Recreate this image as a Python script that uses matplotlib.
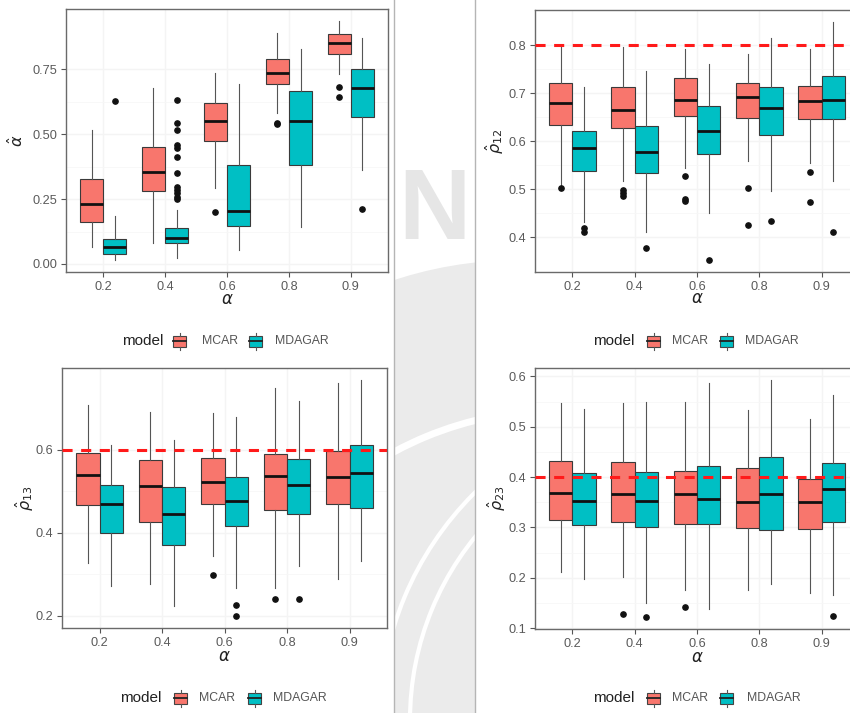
import numpy as np
import matplotlib.pyplot as plt
from matplotlib.patches import Rectangle, Ellipse, Arc

plt.rcParams["font.family"] = ["Liberation Sans", "DejaVu Sans"]
plt.rcParams["mathtext.fontset"] = "dejavusans"

W, H = 850, 713

alpha_levels = ["0.2", "0.4", "0.6", "0.8", "0.9"]
models = ["MCAR", "MDAGAR"]
model_colors = ["#F8766D", "#00BFC4"]

# (lower whisker, Q1, median, Q3, upper whisker) for each alpha level
alpha_mcar = [(0.067, 0.161, 0.233, 0.329, 0.515), (0.080, 0.280, 0.356, 0.450, 0.679),
              (0.293, 0.474, 0.553, 0.619, 0.735), (0.582, 0.692, 0.735, 0.789, 0.892),
              (0.731, 0.810, 0.853, 0.885, 0.937)]
alpha_mdagar = [(0.015, 0.039, 0.067, 0.098, 0.183), (0.022, 0.080, 0.099, 0.139, 0.209),
                (0.052, 0.148, 0.204, 0.383, 0.692), (0.144, 0.383, 0.553, 0.666, 0.830),
                (0.363, 0.567, 0.679, 0.753, 0.872)]
alpha_mcar_out = [[], [], [0.200], [0.545, 0.541], [0.682, 0.643]]
alpha_mdagar_out = [[0.628],
                    [0.631, 0.544, 0.515, 0.457, 0.447, 0.412, 0.350, 0.296, 0.284, 0.273, 0.260, 0.250],
                    [], [], [0.211]]

rho12_mcar = [(0.510, 0.634, 0.680, 0.720, 0.800), (0.517, 0.628, 0.664, 0.713, 0.796),
              (0.544, 0.653, 0.685, 0.731, 0.791), (0.558, 0.649, 0.692, 0.722, 0.781),
              (0.555, 0.646, 0.684, 0.715, 0.791)]
rho12_mdagar = [(0.433, 0.539, 0.585, 0.622, 0.713), (0.412, 0.534, 0.578, 0.631, 0.747),
                (0.451, 0.574, 0.622, 0.674, 0.760), (0.496, 0.614, 0.670, 0.713, 0.815),
                (0.517, 0.646, 0.685, 0.736, 0.848)]
rho12_mcar_out = [[0.502], [0.499, 0.492, 0.487], [0.528, 0.480, 0.476], [0.502, 0.426], [0.537, 0.474]]
rho12_mdagar_out = [[0.419, 0.411], [0.379], [0.353], [0.435], [0.412]]

rho13_mcar = [(0.327, 0.467, 0.540, 0.592, 0.708), (0.276, 0.425, 0.512, 0.575, 0.690),
              (0.343, 0.469, 0.522, 0.579, 0.688), (0.268, 0.454, 0.536, 0.589, 0.748),
              (0.288, 0.469, 0.534, 0.597, 0.760)]
rho13_mdagar = [(0.272, 0.399, 0.470, 0.515, 0.610), (0.224, 0.370, 0.445, 0.511, 0.622),
                (0.268, 0.415, 0.476, 0.535, 0.678), (0.320, 0.445, 0.514, 0.578, 0.716),
                (0.331, 0.460, 0.543, 0.612, 0.768)]
rho13_mcar_out = [[], [], [0.297], [0.241], []]
rho13_mdagar_out = [[], [], [0.225, 0.199], [0.240], []]

rho23_mcar = [(0.211, 0.315, 0.369, 0.432, 0.547), (0.202, 0.310, 0.366, 0.429, 0.547),
              (0.175, 0.307, 0.366, 0.412, 0.549), (0.176, 0.299, 0.350, 0.419, 0.534),
              (0.169, 0.297, 0.351, 0.397, 0.516)]
rho23_mdagar = [(0.198, 0.305, 0.353, 0.408, 0.536), (0.150, 0.301, 0.353, 0.411, 0.549),
                (0.138, 0.306, 0.356, 0.422, 0.587), (0.187, 0.295, 0.367, 0.440, 0.593),
                (0.166, 0.311, 0.376, 0.427, 0.562)]
rho23_mcar_out = [[], [0.128], [0.142], [], []]
rho23_mdagar_out = [[], [0.122], [], [], [0.125]]


def px_axes(fig, x0, y0, x1, y1):
    return fig.add_axes([x0 / W, 1 - y1 / H, (x1 - x0) / W, (y1 - y0) / H])


def draw_panel(ax, mcar, mdagar, mcar_out, mdagar_out, yticks, ylabel, ylab_x, xlab_y,
               ref=None, fmt="{:.1f}"):
    all_vals = [v for s in mcar + mdagar for v in s]
    all_vals += [v for o in mcar_out + mdagar_out for v in o]
    lo, hi = min(all_vals), max(all_vals)
    pad = 0.05 * (hi - lo)
    ax.set_ylim(lo - pad, hi + pad)
    ax.set_xlim(0.4, len(alpha_levels) + 0.6)

    # faint grid
    minor = [(a + b) / 2 for a, b in zip(yticks[:-1], yticks[1:])]
    ax.set_yticks(minor, minor=True)
    ax.grid(True, which="major", color="#f4f4f4", lw=1.0, zorder=0)
    ax.grid(True, which="minor", axis="y", color="#f7f7f7", lw=0.6, zorder=0)

    cats = np.arange(1, len(alpha_levels) + 1)
    for k, (stats, outs) in enumerate([(mcar, mcar_out), (mdagar, mdagar_out)]):
        recs = [dict(whislo=s[0], q1=s[1], med=s[2], q3=s[3], whishi=s[4], fliers=o)
                for s, o in zip(stats, outs)]
        ax.bxp(recs, positions=cats + (k - 0.5) * 0.375, widths=0.375,
               patch_artist=True, showcaps=False, manage_ticks=False,
               boxprops=dict(facecolor=model_colors[k], edgecolor="#3a3a3a", linewidth=0.8),
               medianprops=dict(color="#111111", linewidth=2.0),
               whiskerprops=dict(color="#555555", linewidth=0.8),
               flierprops=dict(marker="o", markerfacecolor="#111111",
                               markeredgecolor="#111111", markersize=3.8))

    if ref is not None:
        ax.axhline(ref, color="#ff1a1a", lw=2.2, ls=(0, (3.3, 2.8)), zorder=5)

    ax.set_xticks(cats)
    ax.set_xticklabels(alpha_levels)
    ax.set_yticks(yticks)
    ax.set_yticklabels([fmt.format(t) for t in yticks])
    ax.tick_params(which="major", length=3.5, width=0.8, color="#555555",
                   labelcolor="#5a5a5a", labelsize=9.2, pad=3)
    ax.tick_params(which="minor", length=0)
    for sp in ax.spines.values():
        sp.set_color("#6a6a6a")
        sp.set_linewidth(1.0)

    ax.set_xlabel(r"$\alpha$", fontsize=12, color="#222222")
    ax.set_ylabel(ylabel, fontsize=11.5, color="#222222")
    ax.xaxis.set_label_coords(0.5, xlab_y)
    ax.xaxis.label.set_va("center")
    ax.yaxis.set_label_coords(ylab_x, 0.5)
    ax.yaxis.label.set_va("center")


def draw_legend(bg, x_title, x_keys, x_labels, yc):
    bg.text(x_title, yc, "model", fontsize=11, va="center", ha="left", color="#222222", zorder=5)
    for xk, xl, name, col in zip(x_keys, x_labels, models, model_colors):
        bg.add_patch(Rectangle((xk - 6.5, yc - 5.5), 13, 11, facecolor=col,
                               edgecolor="#444444", lw=0.8, zorder=5))
        bg.plot([xk - 6.5, xk + 6.5], [yc, yc], color="#222222", lw=1.3, zorder=6)
        bg.plot([xk, xk], [yc - 8.5, yc - 5.5], color="#555555", lw=0.8, zorder=6)
        bg.plot([xk, xk], [yc + 5.5, yc + 8.5], color="#555555", lw=0.8, zorder=6)
        bg.text(xl, yc, name, fontsize=8.8, va="center", ha="left", color="#555555", zorder=5)


fig = plt.figure(figsize=(W / 100, H / 100), dpi=100)

# page background with the faint crest in the gap between the two columns
bg = fig.add_axes([0, 0, 1, 1], zorder=-10)
bg.set_xlim(0, W)
bg.set_ylim(H, 0)
bg.axis("off")
bg.add_patch(Ellipse((520, 560), 700, 600, facecolor="#ebebeb", edgecolor="none", zorder=1))
bg.add_patch(Arc((560, 760), 700, 700, color="white", lw=5, zorder=2))
for r in (290, 320):
    bg.add_patch(Arc((700, 720), 2 * r, 2 * r, color="white", lw=3, zorder=2))
bg.text(398, 239, "N", fontsize=72, fontweight="bold", color="#e6e6e6",
        va="baseline", ha="left", zorder=2)
bg.add_patch(Rectangle((0, 0), 394, H, facecolor="white", edgecolor="none", zorder=3))
bg.add_patch(Rectangle((475, 0), W - 475, H, facecolor="white", edgecolor="none", zorder=3))
bg.plot([394, 394], [0, H], color="#b5b5b5", lw=1.0, zorder=4)
bg.plot([475, 475], [0, H], color="#b5b5b5", lw=1.0, zorder=4)

ax1 = px_axes(fig, 66, 9, 388, 272)
draw_panel(ax1, alpha_mcar, alpha_mdagar, alpha_mcar_out, alpha_mdagar_out,
           [0.0, 0.25, 0.5, 0.75], r"$\hat{\alpha}$", -0.155, -0.103, fmt="{:.2f}")

ax2 = px_axes(fig, 535, 10, 859, 272)
draw_panel(ax2, rho12_mcar, rho12_mdagar, rho12_mcar_out, rho12_mdagar_out,
           [0.4, 0.5, 0.6, 0.7, 0.8], r"$\hat{\rho}_{12}$", -0.125, -0.103, ref=0.8)

ax3 = px_axes(fig, 62, 368, 387, 628)
draw_panel(ax3, rho13_mcar, rho13_mdagar, rho13_mcar_out, rho13_mdagar_out,
           [0.2, 0.4, 0.6], r"$\hat{\rho}_{13}$", -0.115, -0.11, ref=0.6)

ax4 = px_axes(fig, 535, 368, 859, 629)
draw_panel(ax4, rho23_mcar, rho23_mdagar, rho23_mcar_out, rho23_mdagar_out,
           [0.1, 0.2, 0.3, 0.4, 0.5, 0.6], r"$\hat{\rho}_{23}$", -0.118, -0.11, ref=0.4)

draw_legend(bg, 122, [180, 256], [202, 275], 341)
draw_legend(bg, 593, [654, 727], [672, 745], 341)
draw_legend(bg, 120, [181, 255], [199, 273], 698)
draw_legend(bg, 593, [654, 727], [672, 747], 698)

fig.savefig("out.png", dpi=100)
